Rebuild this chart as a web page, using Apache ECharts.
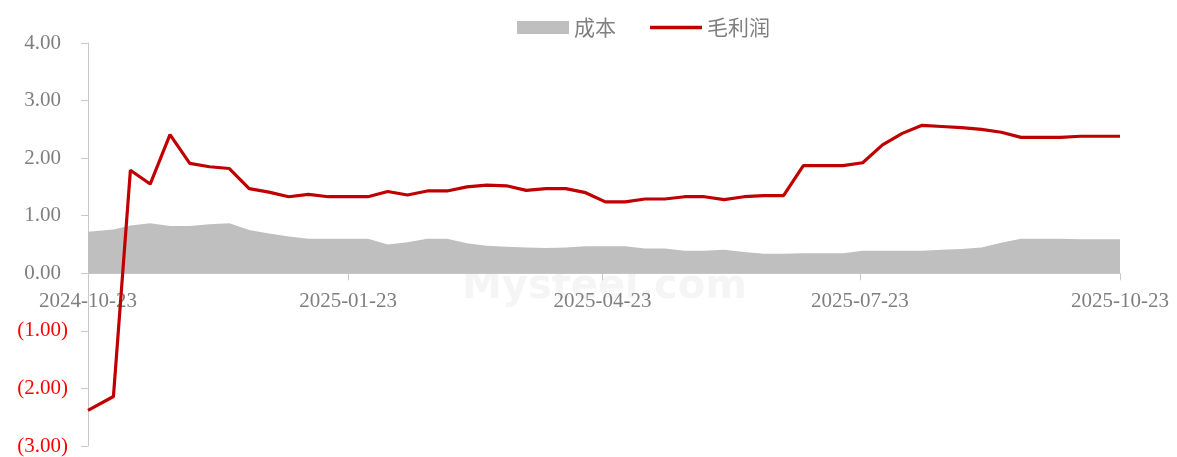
<!DOCTYPE html>
<html>
<head>
<meta charset="utf-8">
<script src="https://cdn.jsdelivr.net/npm/echarts@6/dist/echarts.min.js"></script>
<style>html,body{margin:0;padding:0;background:#fff;}#c{width:1177px;height:457px;}</style>
</head>
<body>
<div id="c"></div>
<script>
const dates = ['2024-10-23','2024-11-01',
'2024-11-07','2024-11-14','2024-11-21','2024-11-28','2024-12-05','2024-12-12','2024-12-19','2024-12-26',
'2025-01-02','2025-01-09','2025-01-16','2025-01-23','2025-01-30','2025-02-06','2025-02-13','2025-02-20','2025-02-27',
'2025-03-06','2025-03-13','2025-03-20','2025-03-27','2025-04-03','2025-04-10','2025-04-17','2025-04-24',
'2025-05-01','2025-05-08','2025-05-15','2025-05-22','2025-05-29','2025-06-05','2025-06-12','2025-06-19','2025-06-26',
'2025-07-03','2025-07-10','2025-07-17','2025-07-24','2025-07-31','2025-08-07','2025-08-14','2025-08-21','2025-08-28',
'2025-09-04','2025-09-11','2025-09-18','2025-09-25','2025-10-02','2025-10-09','2025-10-16','2025-10-23'];
const cost = [0.72,0.76,
0.83,0.87,0.82,0.82,0.85,0.87,0.75,0.69,0.64,0.60,0.60,0.60,0.60,0.50,0.54,0.60,0.60,0.52,0.48,0.46,
0.45,0.44,0.45,0.47,0.47,0.47,0.43,0.43,0.39,0.39,0.41,0.37,0.34,0.34,0.35,0.35,0.35,0.39,0.39,0.39,
0.39,0.41,0.42,0.45,0.53,0.60,0.60,0.60,0.59,0.59,0.59];
const profit = [-2.38,-2.14,
1.79,1.55,2.41,1.91,1.85,1.82,1.47,1.41,1.33,1.37,1.33,1.33,1.33,1.42,1.36,1.43,1.43,1.50,1.53,1.52,
1.44,1.47,1.47,1.40,1.24,1.24,1.29,1.29,1.33,1.33,1.28,1.33,1.35,1.35,1.87,1.87,1.87,1.92,2.23,2.43,
2.57,2.55,2.53,2.50,2.45,2.36,2.36,2.36,2.38,2.38,2.38];
const xTickLabels = ['2024-10-23','2025-01-23','2025-04-23','2025-07-23','2025-10-23'];
const seriesNames = ['成本','毛利润'];

function ts(s){const p=s.split('-').map(Number);return Date.UTC(p[0],p[1]-1,p[2]);}
function fmt(t){const d=new Date(t);const p=n=>(n<10?'0':'')+n;return d.getUTCFullYear()+'-'+p(d.getUTCMonth()+1)+'-'+p(d.getUTCDate());}
const tickVals = xTickLabels.map(ts);

const Y_MIN = -3, Y_MAX = 4;
const gridTop = 43, gridBottom = 11, H = 457;
const plotH = H - gridTop - gridBottom;
// x axis sits on the zero line: shift it up from the bottom by the zero position
const zeroOffset = -plotH * (0 - Y_MIN) / (Y_MAX - Y_MIN);

const chart = echarts.init(document.getElementById('c'));
chart.setOption({
  animation:false,
  backgroundColor:'#fff',
  graphic:[{type:'text',left:462,top:268,z:0,style:{text:'Mysteel.com',fill:'#f5f5f5',font:'bold 40px "DejaVu Sans"'}}],
  legend:{
    top:12,left:512,itemWidth:52,itemHeight:13,itemGap:34,
    textStyle:{color:'#7f7f7f',fontSize:21,fontFamily:'"Noto Sans CJK SC"'},
    data:[{name:seriesNames[0],icon:'rect'},{name:seriesNames[1],icon:'path://M0,0 L52,0 L52,3.5 L0,3.5 Z'}]
  },
  grid:{left:88,right:57,top:gridTop,bottom:gridBottom,containLabel:false,outerBoundsMode:'none'},
  xAxis:{
    type:'value',min:tickVals[0],max:tickVals[4],position:'bottom',offset:zeroOffset,
    axisLine:{onZero:false,lineStyle:{color:'#c8c8c8',width:1}},
    axisTick:{show:true,customValues:tickVals,length:7,lineStyle:{color:'#c8c8c8'}},
    axisLabel:{customValues:tickVals,formatter:v=>fmt(v),color:'#7f7f7f',fontSize:21,fontFamily:'"Liberation Serif"',margin:18,hideOverlap:false,showMinLabel:true,showMaxLabel:true},
    splitLine:{show:false}
  },
  yAxis:{
    type:'value',min:Y_MIN,max:Y_MAX,interval:1,
    axisLine:{show:true,lineStyle:{color:'#c8c8c8'}},
    axisTick:{show:true,length:7,lineStyle:{color:'#c8c8c8'}},
    splitLine:{show:false},
    axisLabel:{
      margin:20,fontSize:21,fontFamily:'"Liberation Serif"',color:'#7f7f7f',
      formatter:v=>v<0?'{neg|('+Math.abs(v).toFixed(2)+')}':'{pos|'+v.toFixed(2)+'}',
      rich:{
        neg:{color:'#ff0000',fontSize:21,fontFamily:'"Liberation Serif"'},
        pos:{color:'#7f7f7f',fontSize:21,fontFamily:'"Liberation Serif"',padding:[0,7,0,0]}
      }
    }
  },
  series:[
    {name:seriesNames[0],type:'line',symbol:'none',data:dates.map((d,i)=>[ts(d),cost[i]]),
     itemStyle:{color:'#bfbfbf'},lineStyle:{width:0,color:'#bfbfbf'},areaStyle:{color:'#bfbfbf',opacity:1},z:1},
    {name:seriesNames[1],type:'line',symbol:'none',data:dates.map((d,i)=>[ts(d),profit[i]]),
     itemStyle:{color:'#c00000'},lineStyle:{width:3.2,color:'#c00000'},z:3}
  ]
});
</script>
</body>
</html>
